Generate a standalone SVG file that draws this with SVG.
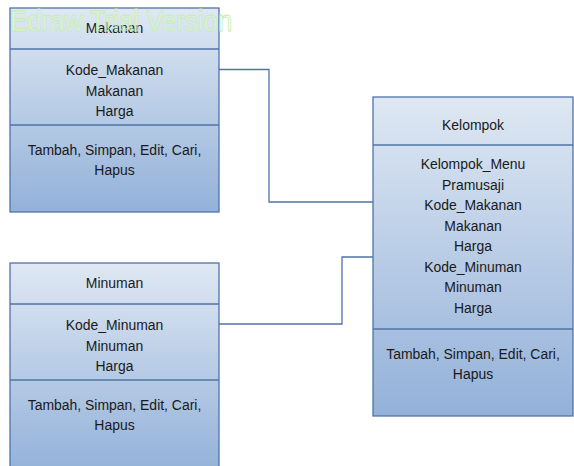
<svg xmlns="http://www.w3.org/2000/svg" width="574" height="466" viewBox="0 0 574 466">
  <defs>
    <linearGradient id="boxFill" x1="0" y1="0" x2="0" y2="1">
      <stop offset="0" stop-color="#dfe8f3"/>
      <stop offset="1" stop-color="#93b1d9"/>
    </linearGradient>
    <style>
      .box { fill: url(#boxFill); stroke: #4f74a8; stroke-width: 1.3; }
      .sep { stroke: #4f74a8; stroke-width: 1.3; fill: none; }
      .wire { stroke: #4f74a8; stroke-width: 1.3; fill: none; }
      .t { font-family: "Liberation Sans", Arial, sans-serif; font-size: 15.5px; fill: #1a1a1a; text-anchor: middle; }
      .wm { font-family: "Liberation Sans", Arial, sans-serif; font-size: 29px; fill: #f3fcee; fill-opacity: 0.35; stroke: #c4eeac; stroke-width: 0.8; }
    </style>
  </defs>

  <!-- connectors -->
  <g id="connectors">
    <polyline class="wire" points="219,69.5 269,69.5 269,202 373,202"/>
    <polyline class="wire" points="219,324 342,324 342,257 373,257"/>
  </g>

  <!-- class: Makanan -->
  <g id="makanan">
    <rect class="box" x="10" y="8" width="209" height="204"/>
    <line class="sep" x1="10" y1="49" x2="219" y2="49"/>
    <line class="sep" x1="10" y1="125" x2="219" y2="125"/>
    <g transform="translate(114.5 0) scale(0.9 1)">
      <text class="t" x="0" y="33">Makanan</text>
      <text class="t" x="0" y="75.5">Kode_Makanan</text>
      <text class="t" x="0" y="96">Makanan</text>
      <text class="t" x="0" y="116.5">Harga</text>
      <text class="t" x="0" y="155">Tambah, Simpan, Edit, Cari,</text>
      <text class="t" x="0" y="175.5">Hapus</text>
    </g>
  </g>

  <!-- class: Minuman -->
  <g id="minuman">
    <rect class="box" x="10" y="263" width="209" height="210"/>
    <line class="sep" x1="10" y1="304" x2="219" y2="304"/>
    <line class="sep" x1="10" y1="380" x2="219" y2="380"/>
    <g transform="translate(114.5 0) scale(0.9 1)">
      <text class="t" x="0" y="288">Minuman</text>
      <text class="t" x="0" y="330.5">Kode_Minuman</text>
      <text class="t" x="0" y="351">Minuman</text>
      <text class="t" x="0" y="371.5">Harga</text>
      <text class="t" x="0" y="410">Tambah, Simpan, Edit, Cari,</text>
      <text class="t" x="0" y="430.5">Hapus</text>
    </g>
  </g>

  <!-- class: Kelompok -->
  <g id="kelompok">
    <rect class="box" x="373" y="97" width="200" height="319"/>
    <line class="sep" x1="373" y1="145" x2="573" y2="145"/>
    <line class="sep" x1="373" y1="329" x2="573" y2="329"/>
    <g transform="translate(473 0) scale(0.9 1)">
      <text class="t" x="0" y="130">Kelompok</text>
      <text class="t" x="0" y="169.5">Kelompok_Menu</text>
      <text class="t" x="0" y="190">Pramusaji</text>
      <text class="t" x="0" y="210.5">Kode_Makanan</text>
      <text class="t" x="0" y="231">Makanan</text>
      <text class="t" x="0" y="251.5">Harga</text>
      <text class="t" x="0" y="272">Kode_Minuman</text>
      <text class="t" x="0" y="292.5">Minuman</text>
      <text class="t" x="0" y="313">Harga</text>
      <text class="t" x="0" y="359">Tambah, Simpan, Edit, Cari,</text>
      <text class="t" x="0" y="379.5">Hapus</text>
    </g>
  </g>

  <!-- trial stamp -->
  <g id="stamp" transform="translate(10 31) scale(0.89 1)">
    <text class="wm" x="0" y="0">Edraw Trial Version</text>
  </g>
</svg>
